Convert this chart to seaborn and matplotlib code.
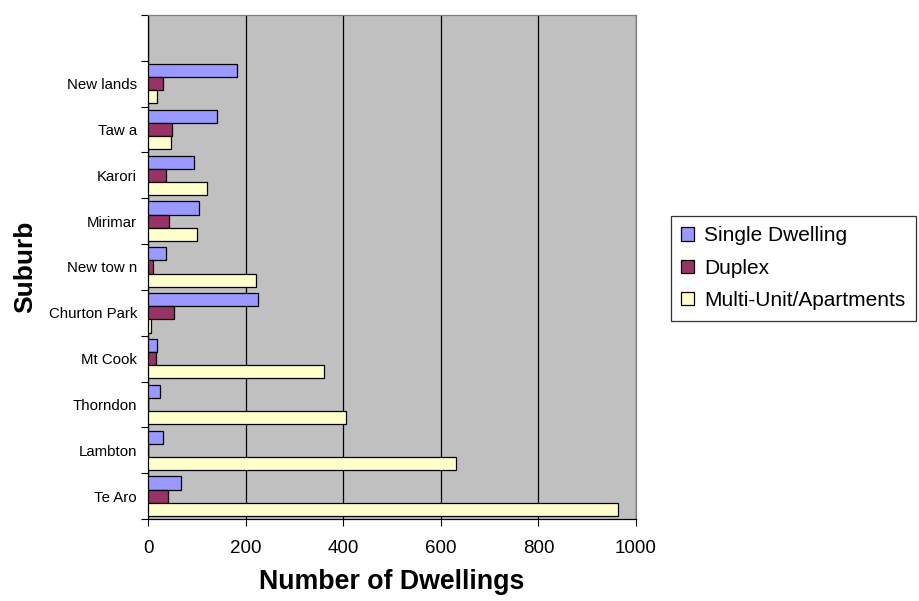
import matplotlib
matplotlib.use("Agg")
import matplotlib.pyplot as plt
from matplotlib.ticker import FixedLocator
import seaborn as sns
import pandas as pd

suburbs = ["New lands", "Taw a", "Karori", "Mirimar", "New tow n",
           "Churton Park", "Mt Cook", "Thorndon", "Lambton", "Te Aro"]
single_dwelling = [182, 141, 95, 105, 36, 225, 18, 25, 30, 68]
duplex = [30, 50, 36, 44, 10, 53, 16, 0, 0, 42]
multi_unit = [18, 47, 120, 100, 222, 7, 360, 405, 632, 964]
series_names = ["Single Dwelling", "Duplex", "Multi-Unit/Apartments"]
x_ticks = [0, 200, 400, 600, 800, 1000]
colors = ["#9999FF", "#993366", "#FFFFCC"]

rows = []
for name, vals in zip(series_names, [single_dwelling, duplex, multi_unit]):
    for s, v in zip(suburbs, vals):
        rows.append({"Suburb": s, "Dwellings": v, "Type": name})
df = pd.DataFrame(rows)

plt.rcParams["font.family"] = ["Liberation Sans", "DejaVu Sans"]

fig = plt.figure(figsize=(9.19, 6.01), dpi=100)
ax = fig.add_axes([148/919, 1-519/601, (636-148)/919, (519-15)/601])
ax.set_facecolor("#C0C0C0")

sns.barplot(data=df, y="Suburb", x="Dwellings", hue="Type", order=suburbs,
            hue_order=series_names, palette=colors, orient="h", width=0.86,
            gap=0, edgecolor="black", linewidth=0.9, saturation=1,
            errorbar=None, ax=ax, zorder=3)

ax.set_xlim(0, 1000)
ax.set_ylim(len(suburbs) - 0.5, -1.5)
ax.set_xticks(x_ticks)
ax.set_xticklabels([str(t) for t in x_ticks])
ax.xaxis.grid(True, color="black", linewidth=0.9)
ax.yaxis.grid(False)
ax.set_axisbelow(True)

ax.tick_params(axis="x", labelsize=13.5, length=5, width=0.8, pad=10, color="black")
ax.tick_params(axis="y", which="major", length=0, labelsize=10.8, pad=8)
ax.yaxis.set_minor_locator(FixedLocator([i - 0.5 for i in range(-1, len(suburbs) + 1)]))
ax.tick_params(axis="y", which="minor", length=5, width=0.8, color="black")

for side in ["left", "bottom"]:
    ax.spines[side].set_color("black")
    ax.spines[side].set_linewidth(0.9)
for side in ["top", "right"]:
    ax.spines[side].set_color("#808080")
    ax.spines[side].set_linewidth(0.9)

ax.set_xlabel("Number of Dwellings", fontsize=19.3, fontweight="bold", va="center")
ax.xaxis.set_label_coords(0.5, (519-582)/504)
ax.set_ylabel("Suburb", fontsize=19, fontweight="bold", va="center")
ax.yaxis.set_label_coords((25-148)/488, 0.5)

handles, labels = ax.get_legend_handles_labels()
if ax.legend_:
    ax.legend_.remove()
leg = fig.legend(handles, labels, loc="upper right",
                 bbox_to_anchor=(916/919, 1-216/601), bbox_transform=fig.transFigure,
                 borderaxespad=0, frameon=True, fancybox=False, fontsize=15,
                 handlelength=0.6, handleheight=0.6, handletextpad=0.5,
                 labelspacing=0.64, borderpad=0.5)
leg.get_frame().set_edgecolor("black")
leg.get_frame().set_linewidth(0.9)

fig.savefig("out.png", dpi=100)
